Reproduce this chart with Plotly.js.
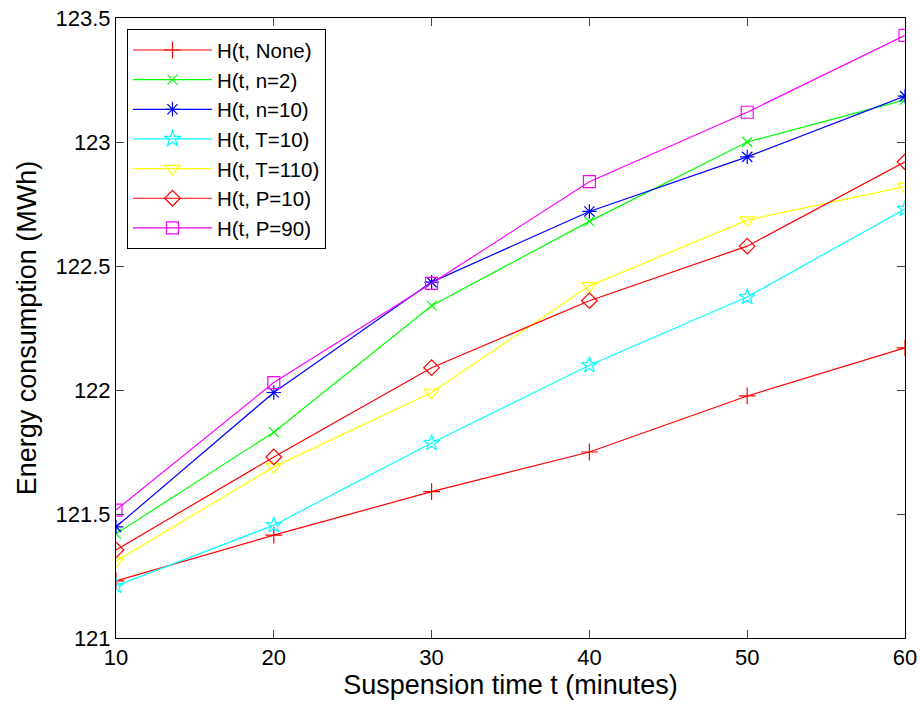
<!DOCTYPE html>
<html>
<head>
<meta charset="utf-8">
<script src="https://cdn.plot.ly/plotly-3.0.1.min.js"></script>
<style>html,body{margin:0;padding:0;background:#fff;}#chart{width:920px;height:708px;}</style>
</head>
<body>
<div id="chart"></div>
<script>
const t = [10, 20, 30, 40, 50, 60];
const seriesNames = ["H(t, None)", "H(t, n=2)", "H(t, n=10)", "H(t, T=10)", "H(t, T=110)", "H(t, P=10)", "H(t, P=90)"];
const hNone = [121.23, 121.415, 121.59, 121.75, 121.976, 122.17];
const hN2   = [121.42, 121.83, 122.34, 122.68, 123.0, 123.17];
const hN10  = [121.448, 121.99, 122.435, 122.72, 122.94, 123.185];
const hT10  = [121.21, 121.455, 121.786, 122.10, 122.375, 122.73];
const hT110 = [121.31, 121.69, 121.99, 122.42, 122.685, 122.82];
const hP10  = [121.355, 121.73, 122.09, 122.36, 122.58, 122.92];
const hP90  = [121.516, 122.03, 122.43, 122.84, 123.12, 123.43];
const xTicks = [10, 20, 30, 40, 50, 60];
const yTicks = [121, 121.5, 122, 122.5, 123, 123.5];
const yTickText = ["121", "121.5", "122", "122.5", "123", "123.5"];

const values = [hNone, hN2, hN10, hT10, hT110, hP10, hP90];
const colors = ["#ff0000", "#00ff00", "#0000ff", "#00ffff", "#ffff00", "#ff0000", "#ff00ff"];
const symbols = ["cross-thin-open", "x-thin-open", "asterisk-open", "star-open", "triangle-down-open", "diamond-open", "square-open"];
const sizes = [12, 10, 12, 12, 13, 12, 12];

const traces = values.map((v, i) => ({
  x: t, y: v, name: seriesNames[i], type: "scatter", mode: "lines+markers",
  line: {color: colors[i], width: 1.2},
  marker: {symbol: symbols[i], size: sizes[i], color: colors[i], line: {color: colors[i], width: 1.2}}
}));

const layout = {
  width: 920, height: 708,
  margin: {l: 116, r: 15, t: 18, b: 70},
  paper_bgcolor: "#fff", plot_bgcolor: "#fff",
  font: {family: "Liberation Sans, Arial, sans-serif", color: "#000", size: 22},
  showlegend: true,
  legend: {x: 0.0139, y: 0.982, xanchor: "left", yanchor: "top", bordercolor: "#000", borderwidth: 1,
           bgcolor: "#fff", font: {size: 20.5}, itemwidth: 79, tracegroupgap: 0},
  xaxis: {range: [10, 60], tickvals: xTicks, ticktext: xTicks.map(String), ticks: "inside", ticklen: 8,
          showline: true, linecolor: "#000", linewidth: 1, mirror: "ticks", showgrid: false, zeroline: false,
          tickfont: {size: 22},
          title: {text: "Suspension time t (minutes)", font: {size: 27}, standoff: 4}},
  yaxis: {range: [121, 123.5], tickvals: yTicks, ticktext: yTickText, ticks: "inside", ticklen: 8,
          showline: true, linecolor: "#000", linewidth: 1, mirror: "ticks", showgrid: false, zeroline: false,
          tickfont: {size: 22},
          title: {text: "Energy consumption (MWh)", font: {size: 27}, standoff: 11}}
};

Plotly.newPlot("chart", traces, layout, {displayModeBar: false, staticPlot: true});
</script>
</body>
</html>
